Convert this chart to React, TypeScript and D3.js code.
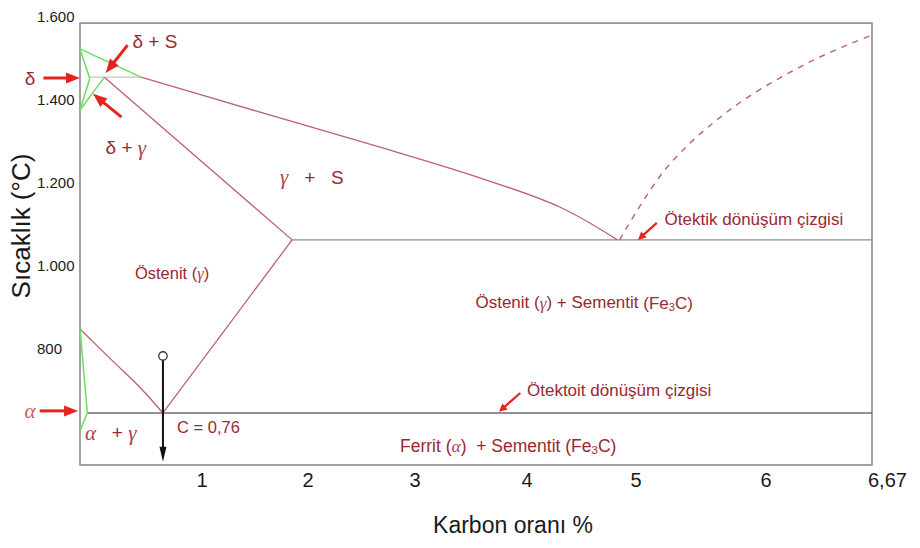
import React from 'react';
import * as d3 from 'd3';

// ---------- axis definitions ----------
const xBreaks = [0, 1, 2, 3, 4, 5, 6, 6.67];
const xTickValues = [1, 2, 3, 4, 5, 6, 6.67];
const xTickLabels = ['1', '2', '3', '4', '5', '6', '6,67'];
const yTickValues = [1600, 1400, 1200, 1000, 800];
const yTickLabels = ['1.600', '1.400', '1.200', '1.000', '800'];
const frameC = [0, 6.67];
const frameT = [1583, 521];

type P = [number, number];

// ---------- phase boundaries (carbon %, °C as drawn) ----------
const deltaLiquidus: P[] = [[0, 1521], [0.5, 1453]];
const deltaSolidus: P[] = [[0, 1521], [0.08, 1450]];
const deltaSolvus: P[] = [[0.08, 1450], [0, 1374]];
const gammaDelta: P[] = [[0, 1374], [0.2, 1453]];
const alphaA3: P[] = [[0, 848], [0.06, 646]];
const alphaSolvus: P[] = [[0.06, 646], [0, 603]];

const liquidus: P[] = [[0.5, 1453], [1.547, 1369], [2.673, 1285], [3.58, 1211], [4.3, 1141], [4.83, 1062]];
const solidus: P[] = [[0.2, 1453], [1.85, 1062]];
const a3Line: P[] = [[0, 848], [0.25, 776], [0.49, 708], [0.68, 646]];
const acmLine: P[] = [[0.68, 646], [1.85, 1062]];
const cementiteLiquidus: P[] = [[4.85, 1062], [5.24, 1237], [5.75, 1381], [6.3, 1494], [6.67, 1554]];

const peritectic: P[] = [[0.08, 1453], [0.5, 1453]];
const eutectic: P[] = [[1.85, 1062], [6.67, 1062]];
const eutectoid: P[] = [[0.06, 646], [6.67, 646]];

// eutectoid composition marker (circle -> arrow head)
const eutectoidMarker: P[] = [[0.68, 783], [0.68, 529]];

// red pointer arrows: [tail, tip]
const redArrows: [P, P][] = [
  [[-0.3, 1451], [0, 1451]],
  [[0.39, 1530], [0.21, 1463]],
  [[0.34, 1357], [0.107, 1413]],
  [[-0.33, 651], [-0.016, 651]],
  [[5.16, 1103], [5.015, 1062]],
  [[3.94, 694], [3.75, 649]],
];

// labels: position in (carbon %, °C)
const labelPos: Record<string, P> = {
  deltaS: [0.43, 1538],
  delta: [-0.41, 1451],
  deltaGamma: [0.21, 1283],
  alpha: [-0.41, 651],
  gammaS: [1.736, 1213],
  austenite: [0.45, 983],
  austCem: [3.54, 911],
  eutecticTxt: [5.22, 1112],
  eutectoidTxt: [4.0, 699],
  ferCem: [2.86, 567],
  alphaGamma: [0.04, 598],
  c076: [0.795, 613],
};

const W = 920;
const H = 548;
const SANS = '"Liberation Sans", Arial, Helvetica, sans-serif';
const SERIF = '"Liberation Serif", "Times New Roman", serif';
const TXT = '#9b2733';
const GREEK = '#a8434c';
const LINE = '#b8626c';
const GREEN = '#6ddc5e';
const RED = '#e5231f';

function Arrow({ a, b, color, w, hl, hw }: { a: [number, number]; b: [number, number]; color: string; w: number; hl: number; hw: number }) {
  const dx = b[0] - a[0];
  const dy = b[1] - a[1];
  const len = Math.hypot(dx, dy);
  const ux = dx / len;
  const uy = dy / len;
  const bx = b[0] - ux * hl;
  const by = b[1] - uy * hl;
  const px = -uy;
  const py = ux;
  const pts = `${b[0]},${b[1]} ${bx + px * hw},${by + py * hw} ${bx - px * hw},${by - py * hw}`;
  return (
    <g>
      <line x1={a[0]} y1={a[1]} x2={bx + ux * 1} y2={by + uy * 1} stroke={color} strokeWidth={w} />
      <polygon points={pts} fill={color} />
    </g>
  );
}

export default function App() {
  const x = d3.scaleLinear().domain(xBreaks).range([80, 202, 308, 415, 527, 636, 766, 872]);
  const y = d3.scaleLinear().domain([1600, 521]).range([16, 465]);
  const line = d3.line<P>().x((d) => x(d[0])).y((d) => y(d[1]));
  const curve = d3.line<P>().x((d) => x(d[0])).y((d) => y(d[1])).curve(d3.curveCatmullRom.alpha(0.5));
  const pt = (p: P): [number, number] => [x(p[0]), y(p[1])];

  const fx0 = x(frameC[0]);
  const fx1 = x(frameC[1]);
  const fy0 = y(frameT[0]);
  const fy1 = y(frameT[1]);

  const L = (k: string) => pt(labelPos[k]);

  const fe3c = (fs: number) => [
    <tspan key="a">(Fe</tspan>,
    <tspan key="b" fontSize={fs * 0.65} dy={4}>3</tspan>,
    <tspan key="c" dy={-4}>C)</tspan>,
  ];

  const m = eutectoidMarker.map(pt);

  return (
    <svg width={W} height={H} style={{ position: 'absolute', left: 0, top: 0, background: '#fff' }} fontFamily={SANS}>
      <rect x={0} y={0} width={W} height={H} fill="#fff" />
      {/* frame */}
      <rect x={fx0} y={fy0} width={fx1 - fx0} height={fy1 - fy0} fill="none" stroke="#8a8a8a" strokeWidth={1.6} />

      {/* horizontal invariant lines */}
      <path d={line(peritectic)!} stroke="#c4c4c4" strokeWidth={1.3} fill="none" />
      <path d={line(eutectic)!} stroke="#8c8c8c" strokeWidth={1.4} fill="none" />
      <path d={line(eutectoid)!} stroke="#6e6e6e" strokeWidth={1.5} fill="none" />

      {/* brown phase boundaries */}
      <path d={curve(liquidus)!} stroke={LINE} strokeWidth={1.3} fill="none" />
      <path d={line(solidus)!} stroke={LINE} strokeWidth={1.3} fill="none" />
      <path d={curve(a3Line)!} stroke={LINE} strokeWidth={1.3} fill="none" />
      <path d={line(acmLine)!} stroke={LINE} strokeWidth={1.3} fill="none" />
      <path d={curve(cementiteLiquidus)!} stroke={LINE} strokeWidth={1.4} fill="none" strokeDasharray="6,6" />

      {/* green boundaries */}
      {[deltaLiquidus, deltaSolidus, deltaSolvus, gammaDelta, alphaA3, alphaSolvus].map((s, i) => (
        <path key={i} d={line(s)!} stroke={GREEN} strokeWidth={1.5} fill="none" />
      ))}

      {/* eutectoid composition marker */}
      <Arrow a={m[0]} b={m[1]} color="#111" w={2} hl={15} hw={3.5} />
      <circle cx={m[0][0]} cy={m[0][1]} r={4.2} fill="#fff" stroke="#333" strokeWidth={1.3} />

      {/* red arrows */}
      {redArrows.map(([a, b], i) => (
        <Arrow key={i} a={pt(a)} b={pt(b)} color={RED} w={i >= 4 ? 2.2 : 3} hl={i >= 4 ? 8 : 14} hw={i >= 4 ? 4 : 5.5} />
      ))}

      {/* y tick labels */}
      {yTickValues.map((v, i) => (
        <text key={v} x={37} y={y(v)} dominantBaseline="central" fontSize={15} fill="#1a1a1a">
          {yTickLabels[i]}
        </text>
      ))}
      {/* x tick labels */}
      {xTickValues.map((v, i) => {
        const last = i === xTickValues.length - 1;
        return (
          <text key={v} x={last ? x(v) - 4 : x(v)} y={487} textAnchor={last ? 'start' : 'middle'} fontSize={20} fill="#1a1a1a">
            {xTickLabels[i]}
          </text>
        );
      })}

      {/* axis titles */}
      <text x={513} y={533} textAnchor="middle" fontSize={23} fill="#1a1a1a">Karbon oranı %</text>
      <text transform={`translate(30,226) rotate(-90)`} textAnchor="middle" fontSize={26} fill="#1a1a1a">Sıcaklık (°C)</text>

      {/* region labels */}
      <text x={L('deltaS')[0]} y={L('deltaS')[1]} dominantBaseline="central" fontSize={19} fill={TXT}>δ + S</text>
      <text x={L('delta')[0]} y={L('delta')[1]} dominantBaseline="central" textAnchor="middle" fontSize={19} fill={TXT}>δ</text>
      <text x={L('deltaGamma')[0]} y={L('deltaGamma')[1]} dominantBaseline="central" fontSize={19} fill={TXT}>
        δ + <tspan fontFamily={SERIF} fontStyle="italic" fill={GREEK} fontSize={21}>γ</tspan>
      </text>
      <text x={L('alpha')[0]} y={L('alpha')[1]} dominantBaseline="central" textAnchor="middle" fontSize={21} fontFamily={SERIF} fontStyle="italic" fill="#c65a5f">α</text>
      <text x={L('gammaS')[0]} y={L('gammaS')[1]} dominantBaseline="central" fontSize={19} fill={TXT} xmlSpace="preserve">
        <tspan fontFamily={SERIF} fontStyle="italic" fill={GREEK} fontSize={21}>γ</tspan>{'   +   S'}
      </text>
      <text x={L('austenite')[0]} y={L('austenite')[1]} dominantBaseline="central" fontSize={16.5} fill={TXT}>
        Östenit (<tspan fontFamily={SERIF} fontStyle="italic" fill={GREEK}>γ</tspan>)
      </text>
      <text x={L('austCem')[0]} y={L('austCem')[1]} dominantBaseline="central" fontSize={17} fill={TXT}>
        Östenit (<tspan fontFamily={SERIF} fontStyle="italic" fill={GREEK}>γ</tspan>) + Sementit {fe3c(17)}
      </text>
      <text x={L('eutecticTxt')[0]} y={L('eutecticTxt')[1]} dominantBaseline="central" fontSize={17} fill={TXT}>Ötektik dönüşüm çizgisi</text>
      <text x={L('eutectoidTxt')[0]} y={L('eutectoidTxt')[1]} dominantBaseline="central" fontSize={17} fill={TXT}>Ötektoit dönüşüm çizgisi</text>
      <text x={L('ferCem')[0]} y={L('ferCem')[1]} dominantBaseline="central" fontSize={17.5} fill={TXT} xmlSpace="preserve">
        Ferrit (<tspan fontFamily={SERIF} fontStyle="italic" fill={GREEK}>α</tspan>)  + Sementit {fe3c(17.5)}
      </text>
      <text x={L('alphaGamma')[0]} y={L('alphaGamma')[1]} dominantBaseline="central" fontSize={19} fill={TXT} xmlSpace="preserve">
        <tspan fontFamily={SERIF} fontStyle="italic" fill={GREEK} fontSize={21}>α</tspan>{'   + '}<tspan fontFamily={SERIF} fontStyle="italic" fill={GREEK} fontSize={21}>γ</tspan>
      </text>
      <text x={L('c076')[0]} y={L('c076')[1]} dominantBaseline="central" fontSize={16.5} fill={TXT}>C = 0,76</text>
    </svg>
  );
}
